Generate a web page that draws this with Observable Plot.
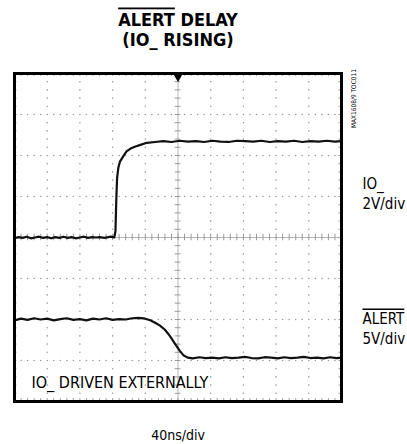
<!DOCTYPE html>
<html>
<head>
<meta charset="utf-8">
<script src="https://cdn.jsdelivr.net/npm/d3@7"></script>
<script src="https://cdn.jsdelivr.net/npm/@observablehq/plot@0.6"></script>
<style>
  html, body { margin: 0; padding: 0; background: #fff; }
  #chart { width: 407px; height: 444px; }
</style>
</head>
<body>
<div id="chart"></div>
<script>
// ---- data (time in ns, value in screen divisions, 0 = centre line) ----
const ioTime = [0,5,10,15,20,25,30,35,40,45,50,55,60,65,70,75,80,85,90,95,100,104,110,118,122,123.5,124.5,125.5,127,129,133,137,142,148,154,162,172,182,192,202,212,222,232,242,252,262,272,282,292,302,312,322,332,342,352,362,372,382,392,400];
const ioValue = [-0.02,0.01,-0.01,0.02,-0.02,0.00,0.02,-0.01,0.01,-0.02,0.01,-0.01,0.02,-0.01,0.01,-0.02,0.00,0.02,-0.01,0.01,0.00,0.01,-0.01,0.02,0.00,0.15,0.9,1.45,1.7,1.85,1.98,2.1,2.17,2.22,2.26,2.31,2.33,2.35,2.33,2.36,2.34,2.35,2.33,2.36,2.34,2.33,2.36,2.35,2.34,2.36,2.33,2.35,2.34,2.36,2.33,2.35,2.34,2.36,2.34,2.35];
const alertTime = [0,8,16,24,32,40,48,56,64,72,80,88,96,104,112,120,128,136,144,152,160,166,172,178,184,190,196,202,207,212,218,226,234,242,250,258,266,274,282,290,298,306,314,322,330,338,346,354,362,370,378,386,394,400];
const alertValue = [-2.02,-1.98,-2.01,-1.97,-2.0,-1.98,-2.02,-1.99,-1.97,-2.01,-1.99,-2.02,-1.98,-2.0,-1.97,-2.01,-1.99,-2.0,-1.97,-1.96,-1.98,-2.02,-2.08,-2.15,-2.25,-2.4,-2.58,-2.76,-2.88,-2.93,-2.95,-2.92,-2.94,-2.93,-2.95,-2.92,-2.94,-2.93,-2.91,-2.94,-2.95,-2.92,-2.93,-2.95,-2.92,-2.94,-2.93,-2.91,-2.94,-2.93,-2.95,-2.92,-2.94,-2.93];

const titleLines = ["ALERT DELAY", "(IO_ RISING)"];
const ioLabel = ["IO_", "2V/div"];
const alertLabel = ["ALERT", "5V/div"];
const timeLabel = "40ns/div";
const noteLabel = "IO_ DRIVEN EXTERNALLY";
const figId = "MAX1608/9 TOC011";

// ---- derived tables ----
const io = ioTime.map((t, i) => ({t, v: ioValue[i]}));
const alert = alertTime.map((t, i) => ({t, v: alertValue[i]}));

const xMajor = d3.range(0, 401, 40);
const xMinor = d3.range(0, 401, 8);
const yMajor = d3.range(-4, 4.01, 1);
const yMinor = d3.range(-4, 4.001, 0.2).map(v => Math.round(v * 10) / 10);

const gridDots = [];
for (const x of xMajor) if (x > 0 && x < 400 && x !== 200)
  for (const y of yMinor) if (y > -4 && y < 4) gridDots.push({x, y});
for (const y of yMajor) if (y > -4 && y < 4 && y !== 0)
  for (const x of xMinor) if (x > 0 && x < 400 && x % 40 !== 0) gridDots.push({x, y});

const innerXMinor = xMinor.filter(x => x > 0 && x < 400);
const innerYMinor = yMinor.filter(y => y > -4 && y < 4);

const font = "'DejaVu Sans Condensed', 'DejaVu Sans', sans-serif";
const gray = "#9a9a9a";

const chart = Plot.plot({
  width: 407,
  height: 444,
  marginTop: 73,
  marginLeft: 14,
  marginRight: 66,
  marginBottom: 43,
  x: {domain: [0, 400], axis: null},
  y: {domain: [-4, 4], axis: null},
  style: {fontFamily: font, background: "#fff", color: "#000"},
  marks: [
    // dotted graticule
    Plot.dot(gridDots, {x: "x", y: "y", r: 0.8, fill: gray, stroke: null}),
    // centre cross with minor ticks
    Plot.ruleX([200], {stroke: "#b5b5b5", strokeWidth: 1}),
    Plot.ruleY([0], {stroke: "#b5b5b5", strokeWidth: 1}),
    Plot.ruleY(innerYMinor, {y: d => d, x1: 196.5, x2: 203.5, stroke: gray, strokeWidth: 1}),
    Plot.ruleX(innerXMinor, {x: d => d, y1: -0.08, y2: 0.08, stroke: gray, strokeWidth: 1}),
    // border ticks
    Plot.ruleX(innerXMinor, {x: d => d, y1: 4, y2: 3.93, stroke: gray, strokeWidth: 1}),
    Plot.ruleX(innerXMinor, {x: d => d, y1: -4, y2: -3.93, stroke: gray, strokeWidth: 1}),
    Plot.ruleY(innerYMinor, {y: d => d, x1: 0, x2: 3, stroke: gray, strokeWidth: 1}),
    Plot.ruleY(innerYMinor, {y: d => d, x1: 400, x2: 397, stroke: gray, strokeWidth: 1}),
    // traces
    Plot.line(io, {x: "t", y: "v", stroke: "#111", strokeWidth: 2.2, curve: "linear"}),
    Plot.line(alert, {x: "t", y: "v", stroke: "#111", strokeWidth: 2.2, curve: "linear"}),
    // frame
    Plot.frame({stroke: "#000", strokeWidth: 3}),
    // trigger marker
    Plot.dot([200], {x: d => d, y: 4, symbol: "triangle", rotate: 180, r: 3.6, fill: "#000", stroke: null, dy: 3}),
    // title
    Plot.text([titleLines[0]], {text: d => d, frameAnchor: "top", dy: -48, lineAnchor: "bottom", fontSize: 18, fontWeight: "bold", fill: "#000"}),
    Plot.text([titleLines[1]], {text: d => d, frameAnchor: "top", dy: -28, lineAnchor: "bottom", fontSize: 18, fontWeight: "bold", fill: "#000"}),
    // right labels
    Plot.text([ioLabel[0]], {text: d => d, frameAnchor: "top-right", dx: 21, dy: 115, textAnchor: "start", lineAnchor: "bottom", fontSize: 15}),
    Plot.text([ioLabel[1]], {text: d => d, frameAnchor: "top-right", dx: 21, dy: 135, textAnchor: "start", lineAnchor: "bottom", fontSize: 15}),
    Plot.text([alertLabel[0]], {text: d => d, frameAnchor: "top-right", dx: 21, dy: 250, textAnchor: "start", lineAnchor: "bottom", fontSize: 15}),
    Plot.text([alertLabel[1]], {text: d => d, frameAnchor: "top-right", dx: 21, dy: 270, textAnchor: "start", lineAnchor: "bottom", fontSize: 15}),
    // figure id (vertical)
    Plot.text([figId], {text: d => d, frameAnchor: "top-right", dx: 12, dy: 25, rotate: -90, textAnchor: "middle", lineAnchor: "middle", fontSize: 6.5}),
    // note inside plot
    Plot.text([noteLabel], {text: d => d, frameAnchor: "bottom-left", dx: 17, dy: -14, textAnchor: "start", lineAnchor: "bottom", fontSize: 16}),
    // time base
    Plot.text([timeLabel], {text: d => d, frameAnchor: "bottom", dy: 38, lineAnchor: "bottom", fontSize: 14})
  ]
});

document.getElementById("chart").appendChild(chart);

// overline the active-low ALERT names
d3.select(chart).selectAll("text").each(function () {
  const t = this.textContent;
  if (t === "ALERT") {
    d3.select(this).style("text-decoration", "overline");
  } else if (t === "ALERT DELAY") {
    const sel = d3.select(this);
    sel.text("");
    sel.append("tspan").style("text-decoration", "overline").text("ALERT");
    sel.append("tspan").text(" DELAY");
  }
});
</script>
</body>
</html>
